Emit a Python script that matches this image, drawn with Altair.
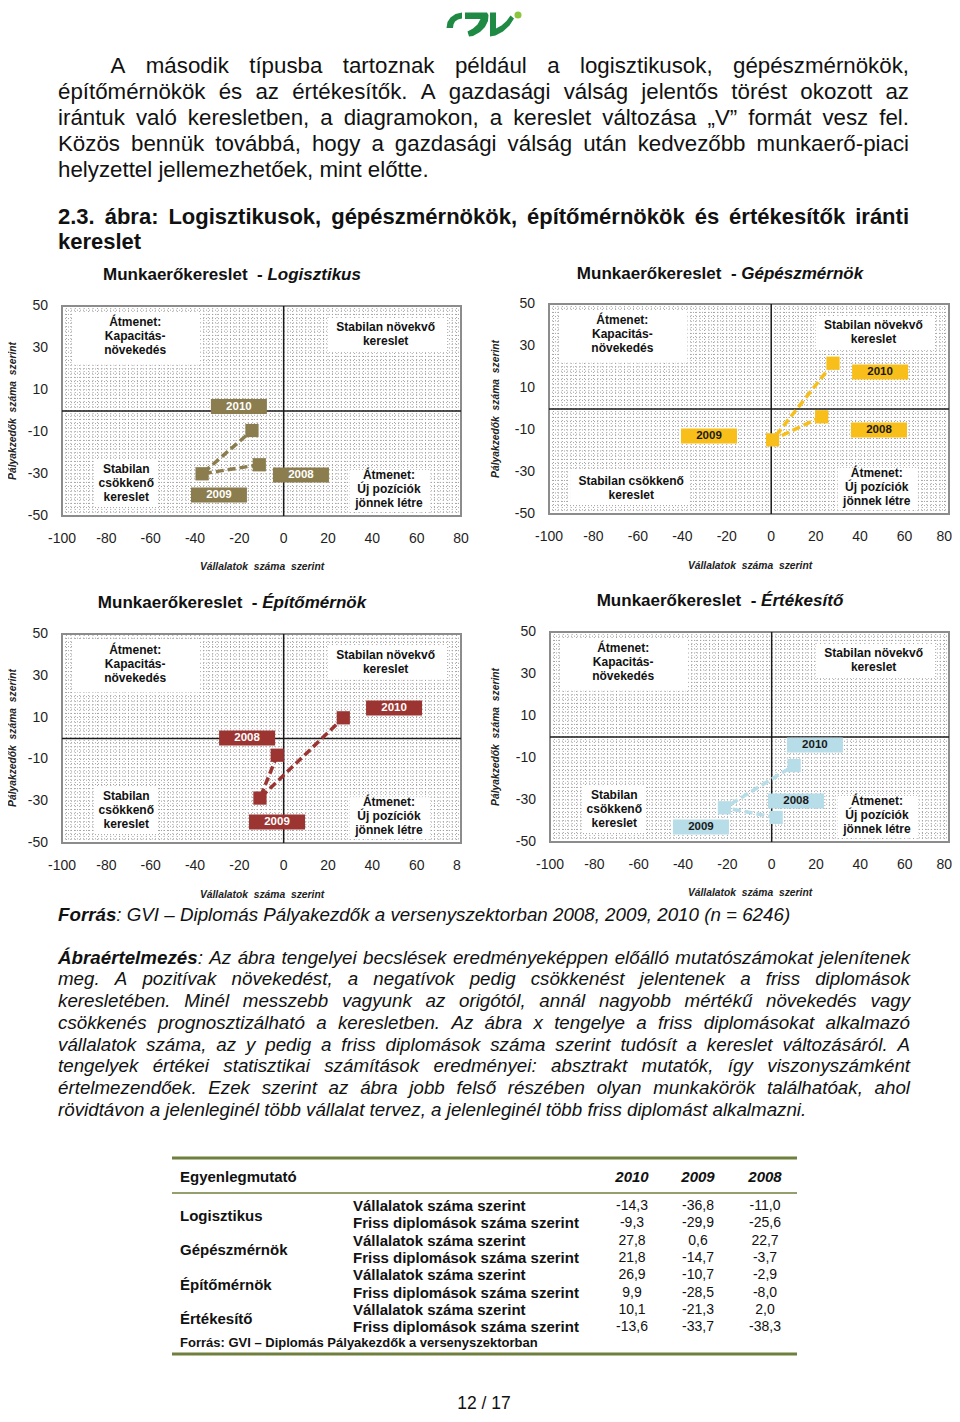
import altair as alt
import pandas as pd

OFF = 8
FONT = "Liberation Sans"
INK = "#111111"

# ------------------------------------------------------------------ data
PROFESSIONS = ["Logisztikus", "Gépészmérnök", "Építőmérnök", "Értékesítő"]
YEARS = [2008, 2009, 2010]
FIRMS_2010 = [-14.3, 27.8, 26.9, 10.1]
FIRMS_2009 = [-36.8, 0.6, -10.7, -21.3]
FIRMS_2008 = [-11.0, 22.7, -2.9, 2.0]
GRADS_2010 = [-9.3, 21.8, 9.9, -13.6]
GRADS_2009 = [-29.9, -14.7, -28.5, -33.7]
GRADS_2008 = [-25.6, -3.7, -8.0, -38.3]

# year-label anchors (data units)
LABEL_X_2010 = [-20.2, 49.0, 49.8, 19.5]
LABEL_Y_2010 = [2.1, 17.6, 14.6, -3.8]
LABEL_X_2009 = [-29.2, -28.0, -3.0, -31.9]
LABEL_Y_2009 = [-40.0, -12.9, -40.0, -42.9]
LABEL_X_2008 = [7.8, 48.5, -16.5, 11.0]
LABEL_Y_2008 = [-30.5, -10.0, 0.2, -30.5]

X_TICKS = [-100, -80, -60, -40, -20, 0, 20, 40, 60]
X_LAST_TICK = [80]
Y_TICKS = [50, 30, 10, -10, -30, -50]
X_TICK_LABELS = ["-100", "-80", "-60", "-40", "-20", "0", "20", "40", "60"]
X_LAST_LABELS = ["80", "80", "8", "80"]
Y_TICK_LABELS = ["50", "30", "10", "-10", "-30", "-50"]
GRID_X = list(range(-100, 81, 2))
GRID_Y = list(range(-50, 51, 2))

QUAD_TEXT = [
    (-67.0, 42.5, ["Átmenet:", "Kapacitás-", "növekedés"]),
    (46.0, 40.0, ["Stabilan növekvő", "kereslet"]),
    (-71.0, -27.5, ["Stabilan", "csökkenő", "kereslet"]),
    (47.5, -30.5, ["Átmenet:", "Új pozíciók", "jönnek létre"]),
]
QUAD_TEXT_C2 = QUAD_TEXT[:2] + [(-63.0, -34.3, ["Stabilan csökkenő", "kereslet"])] + QUAD_TEXT[3:]
QUAD_BOXES = [[-95.0, -37.7, 22.0, 46.7], [20.0, 73.7, 28.1, 44.3],
              [-85.6, -57.1, -45.7, -23.3], [29.9, 66.0, -48.1, -28.1]]
QUAD_BOXES_C2 = QUAD_BOXES[:2] + [[-90.5, -36.5, -45.7, -29.0]] + QUAD_BOXES[3:]

PARA1 = [
    "A második típusba tartoznak például a logisztikusok, gépészmérnökök,",
    "építőmérnökök és az értékesítők. A gazdasági válság jelentős törést okozott az",
    "irántuk való keresletben, a diagramokon, a kereslet változása „V” formát vesz fel.",
    "Közös bennük továbbá, hogy a gazdasági válság után kedvezőbb munkaerő-piaci",
    "helyzettel jellemezhetőek, mint előtte.",
]
CAPTION = ["2.3. ábra: Logisztikusok, gépészmérnökök, építőmérnökök és értékesítők iránti",
           "kereslet"]
SOURCE = "**Forrás**: GVI – Diplomás Pályakezdők a versenyszektorban 2008, 2009, 2010 (n = 6246)"
EXPLAIN = [
    "**Ábraértelmezés**: Az ábra tengelyei becslések eredményeképpen előálló mutatószámokat jelenítenek",
    "meg. A pozitívak növekedést, a negatívok pedig csökkenést jelentenek a friss diplomások",
    "keresletében. Minél messzebb vagyunk az origótól, annál nagyobb mértékű növekedés vagy",
    "csökkenés prognosztizálható a keresletben. Az ábra x tengelye a friss diplomásokat alkalmazó",
    "vállalatok száma, az y pedig a friss diplomások száma szerint tudósít a kereslet változásáról. A",
    "tengelyek értékei statisztikai számítások eredményei: absztrakt mutatók, így viszonyszámként",
    "értelmezendőek. Ezek szerint az ábra jobb felső részében olyan munkakörök találhatóak, ahol",
    "rövidtávon a jelenleginél több vállalat tervez, a jelenleginél több friss diplomást alkalmazni.",
]
TABLE_HEAD = "Egyenlegmutató"
TABLE_YEARS = ["2010", "2009", "2008"]
TABLE_ROW_NAMES = ["Vállalatok száma szerint", "Friss diplomások száma szerint"]
TABLE_SOURCE = "Forrás: GVI – Diplomás Pályakezdők a versenyszektorban"
PAGE_NO = "12 / 17"

# ------------------------------------------------------------------ styles / layout
SERIES_COLORS = ["#8B7D4E", "#F8BF1A", "#9C3532", "#B7DDE8"]
LABEL_TEXT_COLORS = ["#ffffff", "#1a1a1a", "#ffffff", "#1a1a1a"]
GREEN = "#1E8A44"
LIGHT_GREEN = "#8CC63F"
TABLE_GREEN = "#6F7F3D"
GRID_COLOR = "#a0a0a0"
FRAME_COLOR = "#8c8c8c"

FRAMES = [(62, 461, 306, 516), (549, 949, 304, 514), (62, 461, 634, 843), (550, 949, 632, 842)]
TITLE_CENTERS = [(232, 275), (720, 274), (232, 603), (720, 601)]
XTITLE_CENTERS = [(262, 567), (750, 566), (262, 895), (750, 893)]
YTITLE_CENTERS = [(13, 411), (496, 409), (13, 738), (496, 737)]
LABEL_W, LABEL_H = 56, 15
QUAD_LINE_PX = 14

# logo outline (page pixels): arc, "フ"-like stroke, "レ"-like stroke
LOGO_CENTER = (482, 28)
LOGO_HALF = 35
LOGO_POLYS = [
    [(446.5, 28), (447.5, 22), (450.5, 17.5), (455.5, 14), (462, 12.5),
     (462, 18.5), (458, 19.5), (455, 21.5), (453.5, 24.5), (453, 28)],
    [(465, 12.5), (487, 12.5), (488.5, 15), (488, 21), (485, 27), (480, 32), (473, 36),
     (469, 36.5), (467.5, 31.5), (473, 28.5), (477.5, 24.5), (480.5, 19), (465, 19)],
    [(490, 12.5), (496, 12.5), (496, 28.5), (501.5, 25.5), (506.5, 21), (510.5, 15.5),
     (514, 18.5), (509.5, 25.5), (503, 31.5), (495.5, 35.5), (490, 36.5)],
]

# Arial / Liberation Sans advance widths (1/1000 em)
LOW = "abcdefghijklmnopqrstuvwxyz"
UPP = "ABCDEFGHIJKLMNOPQRSTUVWXYZ"
REG_LOW = [556, 556, 500, 556, 556, 278, 556, 556, 222, 222, 500, 222, 833, 556, 556, 556, 556, 333, 500, 278, 556, 500, 722, 500, 500, 500]
REG_UPP = [667, 667, 722, 722, 667, 611, 778, 722, 278, 500, 667, 556, 833, 722, 778, 667, 778, 722, 667, 611, 722, 667, 944, 667, 667, 611]
BLD_LOW = [556, 611, 556, 611, 556, 333, 611, 611, 278, 278, 556, 278, 889, 611, 611, 611, 611, 389, 556, 333, 611, 556, 778, 556, 556, 500]
BLD_UPP = [722, 722, 722, 722, 667, 611, 778, 722, 278, 556, 722, 611, 833, 722, 778, 667, 778, 722, 667, 611, 722, 667, 944, 667, 667, 611]
REG = dict(zip(LOW, REG_LOW)); REG.update(zip(UPP, REG_UPP))
BLD = dict(zip(LOW, BLD_LOW)); BLD.update(zip(UPP, BLD_UPP))
PUN_R = {" ": 278, "\u00a0": 278, ",": 278, ".": 278, ":": 278, ";": 278, "-": 333, "–": 556,
         "„": 333, "”": 333, "(": 333, ")": 333, "=": 584, "/": 278}
PUN_B = dict(PUN_R); PUN_B.update({":": 333, ";": 333})
for d in "0123456789":
    PUN_R[d] = 556; PUN_B[d] = 556
REG.update(PUN_R); BLD.update(PUN_B)
ACC = str.maketrans("áéóöőúüűÁÉÓÖŐÚÜŰ", "aeooouuuAEOOOUUU")


def tw(s, size, bold=False):
    t = BLD if bold else REG
    tot = 0
    for ch in s:
        if ch in "íÍ":
            tot += 278
        else:
            tot += t.get(ch.translate(ACC), 556)
    return tot * size / 1000.0


ROWS = []


def put(x, y, t, style):
    ROWS.append({"x": x - OFF, "y": y - OFF, "t": t, "s": style})


def parse(line, base_bold=False):
    words, bold = [], base_bold
    for raw in line.split(" "):
        if raw == "":
            continue
        segs = []
        for k, p in enumerate(raw.split("**")):
            if k > 0:
                bold = not bold
            if p:
                segs.append((p, bold))
        words.append(segs)
    return words


def set_line(line, left, right, y, size, st_reg, st_bold, justify, base_bold=False):
    words = parse(line, base_bold)
    widths = [sum(tw(t, size, b) for t, b in w) for w in words]
    gap = tw(" ", size)
    if justify and len(words) > 1:
        gap = (right - left - sum(widths)) / (len(words) - 1)
    x = left
    for w, wd in zip(words, widths):
        xx = x
        for t, b in w:
            put(xx, y, t, st_bold if b else st_reg)
            xx += tw(t, size, b)
        x += wd + gap


STYLES = {
    "body": dict(fontSize=22.3, align="left", baseline="alphabetic", color=INK),
    "cap": dict(fontSize=22, fontWeight="bold", align="left", baseline="alphabetic", color=INK),
    "it": dict(fontSize=18.75, fontStyle="italic", align="left", baseline="alphabetic", color=INK),
    "itb": dict(fontSize=18.75, fontStyle="italic", fontWeight="bold", align="left", baseline="alphabetic", color=INK),
    "ttl": dict(fontSize=17, fontWeight="bold", align="left", baseline="middle", color=INK),
    "ttli": dict(fontSize=17, fontWeight="bold", fontStyle="italic", align="left", baseline="middle", color=INK),
    "axt": dict(fontSize=10.3, fontWeight="bold", fontStyle="italic", align="center", baseline="middle", color="#222222"),
    "axty": dict(fontSize=10.3, fontWeight="bold", fontStyle="italic", align="center", baseline="middle", color="#222222", angle=270),
    "tbl": dict(fontSize=15, fontWeight="bold", align="left", baseline="middle", color=INK),
    "tyr": dict(fontSize=15, fontWeight="bold", fontStyle="italic", align="center", baseline="middle", color=INK),
    "tnum": dict(fontSize=14, align="center", baseline="middle", color=INK),
    "tsrc": dict(fontSize=13, fontWeight="bold", align="left", baseline="middle", color=INK),
    "page": dict(fontSize=17.5, align="center", baseline="alphabetic", color=INK),
}

# ------------------------------------------------------------------ page text
for k, line in enumerate(PARA1):
    set_line(line, 110.5 if k == 0 else 58, 909, 73 + 26 * k, 22.3, "body", "cap",
             justify=k < len(PARA1) - 1)
for k, line in enumerate(CAPTION):
    set_line(line, 58, 909, 224 + 24.5 * k, 22, "cap", "cap", justify=k == 0, base_bold=True)
set_line(SOURCE, 58, 909, 921, 18.75, "it", "itb", justify=False)
for k, line in enumerate(EXPLAIN):
    set_line(line, 58, 910, 963.5 + 21.75 * k, 18.75, "it", "itb", justify=k < len(EXPLAIN) - 1)

for i in range(4):
    cx, cy = TITLE_CENTERS[i]
    p1 = "Munkaerőkereslet\u00a0\u00a0-\u00a0"
    w1 = tw(p1, 17, True)
    w2 = tw(PROFESSIONS[i], 17, True)
    left = cx - (w1 + w2) / 2
    put(left, cy, p1, "ttl")
    put(left + w1, cy, PROFESSIONS[i], "ttli")
    put(XTITLE_CENTERS[i][0], XTITLE_CENTERS[i][1], "Vállalatok\u00a0\u00a0száma\u00a0\u00a0szerint", "axt")
    put(YTITLE_CENTERS[i][0], YTITLE_CENTERS[i][1], "Pályakzedők\u00a0\u00a0száma\u00a0\u00a0szerint", "axty")


def fmt(v):
    return f"{v:.1f}".replace(".", ",")


TABLE_NUM_X = [632, 698, 765]
put(180, 1177, TABLE_HEAD, "tbl")
for yr, cx in zip(TABLE_YEARS, TABLE_NUM_X):
    put(cx, 1177, yr, "tyr")
for k, prof in enumerate(PROFESSIONS):
    ya = 1206 + 17.3 * (2 * k)
    yb = ya + 17.3
    put(180, (ya + yb) / 2 + 1, prof, "tbl")
    put(353, ya, TABLE_ROW_NAMES[0], "tbl")
    put(353, yb, TABLE_ROW_NAMES[1], "tbl")
    for vals, cx in zip([FIRMS_2010, FIRMS_2009, FIRMS_2008], TABLE_NUM_X):
        put(cx, ya, fmt(vals[k]), "tnum")
    for vals, cx in zip([GRADS_2010, GRADS_2009, GRADS_2008], TABLE_NUM_X):
        put(cx, yb, fmt(vals[k]), "tnum")
put(180, 1343, TABLE_SOURCE, "tsrc")
put(484, 1409, PAGE_NO, "page")

page_df = pd.DataFrame(ROWS)
page_layers = []
for name, st in STYLES.items():
    sub = page_df[page_df["s"] == name].reset_index(drop=True)
    if len(sub) == 0:
        continue
    kw = {"font": FONT}
    kw.update(st)
    page_layers.append(
        alt.Chart(sub).mark_text(**kw).encode(
            x=alt.X("x:Q", scale=None, axis=None),
            y=alt.Y("y:Q", scale=None, axis=None),
            text="t:N",
        )
    )

rule_df = pd.DataFrame({"x": [172 - OFF] * 3, "x2": [797 - OFF] * 3,
                        "y": [1158 - OFF, 1193 - OFF, 1354 - OFF], "w": [3.0, 1.5, 3.0]})
table_rules = alt.Chart(rule_df).mark_rule(color=TABLE_GREEN).encode(
    x=alt.X("x:Q", scale=None, axis=None), x2="x2",
    y=alt.Y("y:Q", scale=None, axis=None),
    strokeWidth=alt.StrokeWidth("w:Q", scale=None),
)


def logo_path():
    cx, cy = LOGO_CENTER
    parts = []
    for poly in LOGO_POLYS:
        pts = [f"{(x - cx) / LOGO_HALF:.4f},{(y - cy) / LOGO_HALF:.4f}" for x, y in poly]
        parts.append("M" + " L".join(pts) + " Z")
    return " ".join(parts)


one = pd.DataFrame({"k": [0]})
logo_shape = alt.Chart(one).mark_point(
    shape=logo_path(), filled=True, size=(2 * LOGO_HALF) ** 2, color=GREEN, opacity=1, strokeWidth=0
).encode(x=alt.value(LOGO_CENTER[0] - OFF), y=alt.value(LOGO_CENTER[1] - OFF))
logo_dot = alt.Chart(one).mark_circle(color=LIGHT_GREEN, size=50, opacity=1).encode(
    x=alt.value(518 - OFF), y=alt.value(15 - OFF))


# ------------------------------------------------------------------ panels
def panel(i):
    x0, x1, y0, y1 = FRAMES[i]
    ppx = (x1 - x0) / 180.0
    ppy = (y1 - y0) / 100.0
    xs = alt.Scale(domain=[-100, 80], range=[x0 - OFF, x1 - OFF], nice=False, zero=False)
    ys = alt.Scale(domain=[-50, 50], range=[y1 - OFF, y0 - OFF], nice=False, zero=False)

    def ex(f):
        return alt.X(f"{f}:Q", scale=xs, axis=None)

    def ey(f):
        return alt.Y(f"{f}:Q", scale=ys, axis=None)

    color = SERIES_COLORS[i]
    grid_style = dict(color=GRID_COLOR, strokeWidth=1, strokeDash=[1, 2])

    vg = pd.DataFrame({"g": GRID_X}); vg["lo"] = -50; vg["hi"] = 50
    hg = pd.DataFrame({"g": GRID_Y}); hg["lo"] = -100; hg["hi"] = 80
    l_vg = alt.Chart(vg).mark_rule(**grid_style).encode(x=ex("g"), y=ey("lo"), y2="hi")
    l_hg = alt.Chart(hg).mark_rule(**grid_style).encode(y=ey("g"), x=ex("lo"), x2="hi")

    boxes = QUAD_BOXES_C2 if i == 1 else QUAD_BOXES
    bdf = pd.DataFrame(boxes, columns=["bx0", "bx1", "by0", "by1"])
    l_box = alt.Chart(bdf).mark_rect(color="white").encode(x=ex("bx0"), x2="bx1", y=ey("by0"), y2="by1")

    fr = pd.DataFrame({"a": [-100], "b": [80], "c": [-50], "d": [50]})
    l_fr = alt.Chart(fr).mark_rect(fillOpacity=0, stroke=FRAME_COLOR, strokeWidth=2).encode(
        x=ex("a"), x2="b", y=ey("c"), y2="d")

    zx = pd.DataFrame({"v": [0], "lo": [-50], "hi": [50]})
    zy = pd.DataFrame({"v": [0], "lo": [-100], "hi": [80]})
    l_zx = alt.Chart(zx).mark_rule(color="#1a1a1a", strokeWidth=1.5).encode(x=ex("v"), y=ey("lo"), y2="hi")
    l_zy = alt.Chart(zy).mark_rule(color="#1a1a1a", strokeWidth=1.5).encode(y=ey("v"), x=ex("lo"), x2="hi")

    qrows = []
    for ax, ay, lines in (QUAD_TEXT_C2 if i == 1 else QUAD_TEXT):
        for k, line in enumerate(lines):
            qrows.append({"x": ax, "y": ay - k * QUAD_LINE_PX / ppy, "t": line})
    l_qt = alt.Chart(pd.DataFrame(qrows)).mark_text(
        font=FONT, fontSize=12, fontWeight="bold", color=INK, align="center", baseline="middle"
    ).encode(x=ex("x"), y=ey("y"), text="t:N")

    pts = pd.DataFrame({
        "year": YEARS,
        "x": [FIRMS_2008[i], FIRMS_2009[i], FIRMS_2010[i]],
        "y": [GRADS_2008[i], GRADS_2009[i], GRADS_2010[i]],
    })
    l_line = alt.Chart(pts).mark_line(color=color, strokeWidth=3.5, strokeDash=[8, 4]).encode(
        x=ex("x"), y=ey("y"), order="year:O")
    l_pts = alt.Chart(pts).mark_square(size=175, color=color, opacity=1).encode(x=ex("x"), y=ey("y"))

    lab = pd.DataFrame({
        "t": [str(y) for y in YEARS],
        "x": [LABEL_X_2008[i], LABEL_X_2009[i], LABEL_X_2010[i]],
        "y": [LABEL_Y_2008[i], LABEL_Y_2009[i], LABEL_Y_2010[i]],
    })
    lab["x0"] = lab["x"] - LABEL_W / 2 / ppx
    lab["x1"] = lab["x"] + LABEL_W / 2 / ppx
    lab["y0"] = lab["y"] - LABEL_H / 2 / ppy
    lab["y1"] = lab["y"] + LABEL_H / 2 / ppy
    l_lab = alt.Chart(lab).mark_rect(color=color).encode(x=ex("x0"), x2="x1", y=ey("y0"), y2="y1")
    l_labt = alt.Chart(lab).mark_text(
        font=FONT, fontSize=11.5, fontWeight="bold", color=LABEL_TEXT_COLORS[i],
        align="center", baseline="middle"
    ).encode(x=ex("x"), y=ey("y"), text="t:N")

    tick_style = dict(font=FONT, fontSize=14, color="#1f1f1f", baseline="middle")
    xt = pd.DataFrame({"x": X_TICKS, "t": X_TICK_LABELS})
    xt["y"] = -50
    l_xt = alt.Chart(xt).mark_text(align="center", dy=23, **tick_style).encode(
        x=ex("x"), y=ey("y"), text="t:N")
    xl = pd.DataFrame({"x": X_LAST_TICK, "t": [X_LAST_LABELS[i]]})
    xl["y"] = -50
    if i in (1, 3):
        l_xl = alt.Chart(xl).mark_text(align="right", dx=3, dy=23, **tick_style).encode(
            x=ex("x"), y=ey("y"), text="t:N")
    elif i == 2:
        l_xl = alt.Chart(xl).mark_text(align="center", dx=-4, dy=23, **tick_style).encode(
            x=ex("x"), y=ey("y"), text="t:N")
    else:
        l_xl = alt.Chart(xl).mark_text(align="center", dy=23, **tick_style).encode(
            x=ex("x"), y=ey("y"), text="t:N")
    yt = pd.DataFrame({"y": Y_TICKS, "t": Y_TICK_LABELS})
    yt["x"] = -100
    l_yt = alt.Chart(yt).mark_text(align="right", dx=-14, **tick_style).encode(
        x=ex("x"), y=ey("y"), text="t:N")

    return alt.layer(l_vg, l_hg, l_box, l_fr, l_zx, l_zy, l_qt, l_line, l_pts,
                     l_lab, l_labt, l_xt, l_xl, l_yt)


panels = [panel(i) for i in range(4)]

chart = alt.layer(
    *page_layers, table_rules, logo_shape, logo_dot, *panels
).resolve_scale(
    x="independent", y="independent"
).properties(
    width=944, height=1406, padding=0,
    autosize=alt.AutoSizeParams(type="none"),
    background="white",
).configure_view(strokeWidth=0)

chart.save("out.html", embed_options={"renderer": "svg", "actions": False})
